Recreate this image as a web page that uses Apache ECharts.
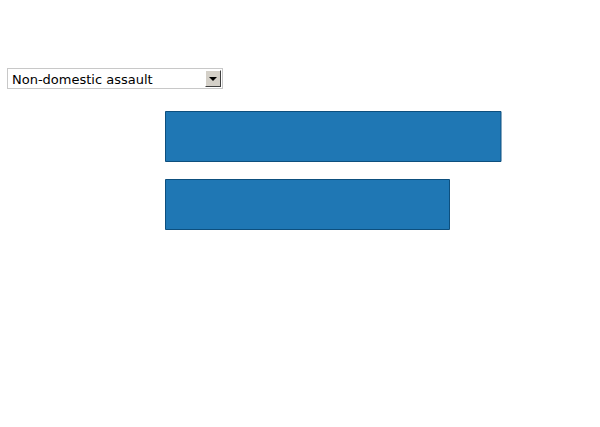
<!DOCTYPE html>
<html>
<head>
<meta charset="utf-8">
<script src="https://cdn.jsdelivr.net/npm/echarts@6/dist/echarts.min.js"></script>
<style>
html,body{margin:0;padding:0;background:#fff;width:600px;height:427px;overflow:hidden;}
#chart{position:absolute;left:0;top:0;width:600px;height:427px;}
#sel{position:absolute;left:7px;top:68px;width:216px;height:21px;box-sizing:border-box;
 border:1px solid #c8c8c8;background:#fff;font-family:"DejaVu Sans",sans-serif;font-size:13px;
 color:#000;padding:1px 0 0 4px;margin:0;-webkit-appearance:none;appearance:none;outline:none;border-radius:0;}
#btn{position:absolute;left:205px;top:70px;width:16px;height:17px;box-sizing:border-box;
 background:#d4d0c8;border-top:1px solid #fff;border-left:1px solid #fff;border-right:1px solid #404040;border-bottom:1px solid #404040;pointer-events:none;}
#btn:after{content:"";position:absolute;left:3px;top:6px;border-left:4px solid transparent;border-right:4px solid transparent;border-top:4px solid #000;}
</style>
</head>
<body>
<div id="chart"></div>
<select id="sel"><option>Non-domestic assault</option><option>Domestic assault</option></select>
<div id="btn"></div>
<script>
const categories = ["2012", "2013"];
const values = [336.5, 285];
const axisMax = 435;

const chart = echarts.init(document.getElementById('chart'), null, {renderer:'canvas'});
chart.setOption({
  animation:false,
  grid:{left:165, top:102.5, width:435, height:136},
  xAxis:{type:'value', min:0, max:axisMax, show:false},
  yAxis:{type:'category', data:categories, inverse:true, show:false},
  series:[{
    type:'bar',
    data:values,
    barWidth:51,
    itemStyle:{color:'#1f77b4', borderColor:'#0d4f7e', borderWidth:1}
  }]
});
</script>
</body>
</html>
